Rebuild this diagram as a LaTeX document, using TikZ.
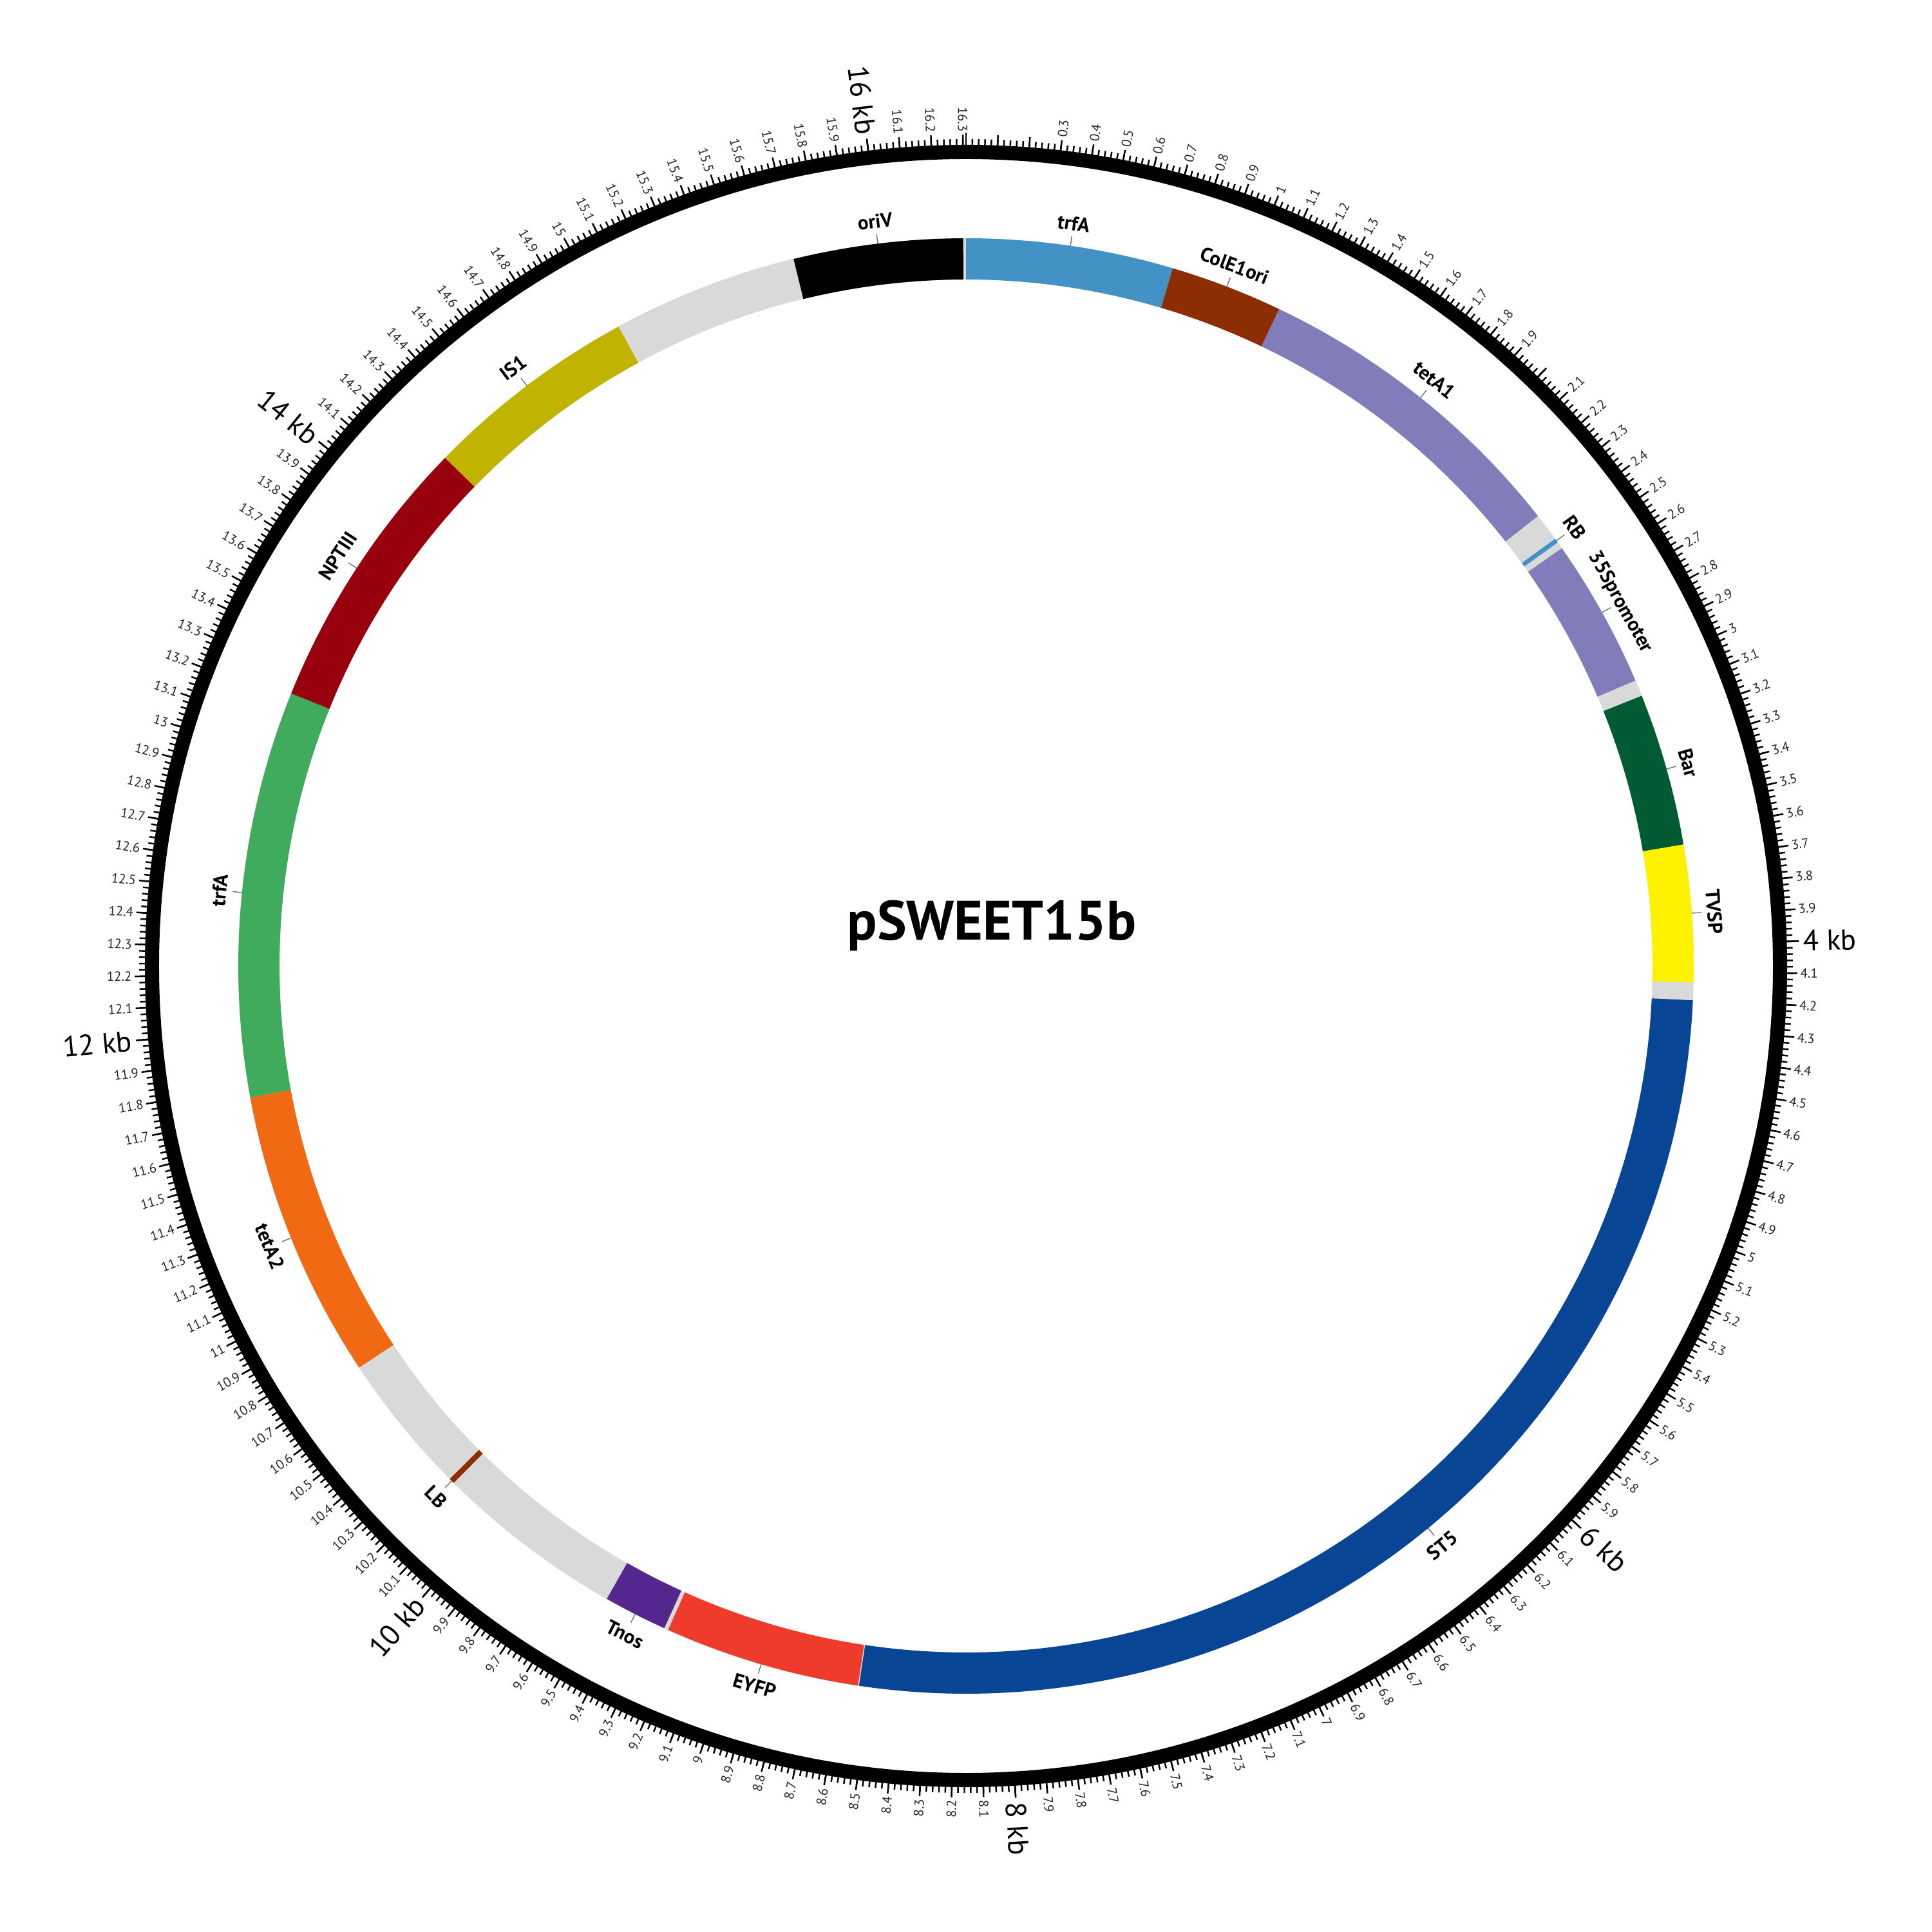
\documentclass[tikz,border=0pt]{standalone}
\usepackage{fontspec}
\setmainfont{PT Sans}

\definecolor{trfablue}{HTML}{4292C6}
\definecolor{colebrown}{HTML}{8C2D04}
\definecolor{tetpurple}{HTML}{807DBA}
\definecolor{backbone}{HTML}{D9D9D9}
\definecolor{bargreen}{HTML}{005A32}
\definecolor{tvspyellow}{HTML}{FFF200}
\definecolor{stblue}{HTML}{084594}
\definecolor{eyfpred}{HTML}{EF3B2C}
\definecolor{tnospurple}{HTML}{54278F}
\definecolor{tetorange}{HTML}{F16913}
\definecolor{trfgreen}{HTML}{41AB5D}
\definecolor{nptred}{HTML}{99000D}
\definecolor{isolive}{HTML}{C0B400}
\definecolor{leadgray}{HTML}{707070}

\tikzset{
    ticklabel/.style = {inner sep=0pt, font=\fontsize{5.9}{7}\selectfont, text=black!85},
    kblabel/.style = {inner sep=0pt, font=\fontsize{12.8}{15}\selectfont},
    featlabel/.style = {inner sep=0pt, text height=6.1pt, text depth=0pt, font=\bfseries\fontsize{8.8}{10}\selectfont},
    leader/.style = {draw=leadgray, line width=0.4pt},
    tickmark/.style = {color=black, line width=0.7pt},
}

\begin{document}
\begin{tikzpicture}
            \fill[white] (-15,-15) rectangle (15,15);
            \useasboundingbox (-15,-15) rectangle (15,15);

            \node[font=\bfseries\fontsize{24.5}{29}\selectfont, anchor=base] (title) at (0.40,0.40) {pSWEET15b};

            \fill[backbone, even odd rule] (0,0) circle[radius=11.30] (0,0) circle[radius=10.66];

            \foreach \s/\e/\col/\lab/\nm in {
                0/0.748/trfablue/trfA/trfA-a,
                0.748/1.155/colebrown/ColE1ori/ColE1ori,
                1.155/2.347/tetpurple/tetA1/tetA1,
                2.449/2.465/trfablue/RB/RB,
                2.490/3.031/tetpurple/35Spromoter/p35S,
                3.090/3.642/bargreen/Bar/Bar,
                3.642/4.136/tvspyellow/TVSP/TVSP,
                4.200/8.538/stblue/ST5/ST5,
                8.542/9.250/eyfpred/EYFP/EYFP,
                9.265/9.495/tnospurple/Tnos/Tnos,
                10.182/10.202/colebrown/LB/LB,
                10.715/11.761/tetorange/tetA2/tetA2,
                11.761/13.229/trfgreen/trfA/trfA-b,
                13.229/14.239/nptred/NPTIII/NPTIII,
                14.239/15.018/isolive/IS1/IS1,
                15.689/16.300/black/oriV/oriV}{
                \pgfmathsetmacro\ts{90-\s*22.07235}
                \pgfmathsetmacro\te{90-\e*22.07235}
                \pgfmathsetmacro\fmid{(\s+\e)*11.036175}
                \pgfmathsetmacro\tm{90-\fmid}
                \fill[\col] (\ts:11.30) arc[start angle=\ts, end angle=\te, radius=11.30] -- (\te:10.66) arc[start angle=\te, end angle=\ts, radius=10.66] -- cycle;
                \draw[leader] (\tm:11.30) -- (\tm:11.45);
                \pgfmathsetmacro\rot{-\fmid}
                \ifdim\fmid pt>90pt \ifdim\fmid pt<270pt \pgfmathsetmacro\rot{180-\fmid}\fi\fi
                \node[featlabel, rotate=\rot] (\nm) at (\tm:11.65) {\lab};
            }

            \draw[color=black, line width=0.22cm] (0,0) circle[radius=12.64];

            \foreach \i in {0,...,815}
                \draw[tickmark] ({90-\i*0.441447}:12.74) -- ({90-\i*0.441447}:12.84);
            \foreach \i in {0,5,...,815}
                \draw[tickmark] ({90-\i*0.441447}:12.74) -- ({90-\i*0.441447}:12.91);
            \foreach \i in {0,100,...,800}
                \draw[tickmark] ({90-\i*0.441447}:12.74) -- ({90-\i*0.441447}:12.94);

            \foreach \k in {3,...,163}{
                \pgfmathtruncatemacro\krem{mod(\k,20)}
                \ifnum\krem=0 \else
                    \pgfmathtruncatemacro\kint{div(\k,10)}
                    \pgfmathtruncatemacro\kdec{mod(\k,10)}
                    \pgfmathsetmacro\pos{\k*2.207235}
                    \ifdim\pos pt<180pt
                        \pgfmathsetmacro\rot{90-\pos}\def\anc{west}
                    \else
                        \pgfmathsetmacro\rot{270-\pos}\def\anc{east}
                    \fi
                    \node[ticklabel, anchor=\anc, rotate=\rot] (t\k) at ({90-\pos}:12.95) {\ifnum\kdec=0 \kint\else\kint.\kdec\fi};
                \fi
            }

            \foreach \n in {4,6,...,16}{
                \pgfmathsetmacro\pos{\n*22.07235}
                \ifdim\pos pt<180pt
                    \pgfmathsetmacro\rot{90-\pos}\def\anc{west}
                \else
                    \pgfmathsetmacro\rot{270-\pos}\def\anc{east}
                \fi
                \node[kblabel, anchor=\anc, rotate=\rot] (kb\n) at ({90-\pos}:13.0) {\n\ kb};
            }
\end{tikzpicture}
\end{document}
